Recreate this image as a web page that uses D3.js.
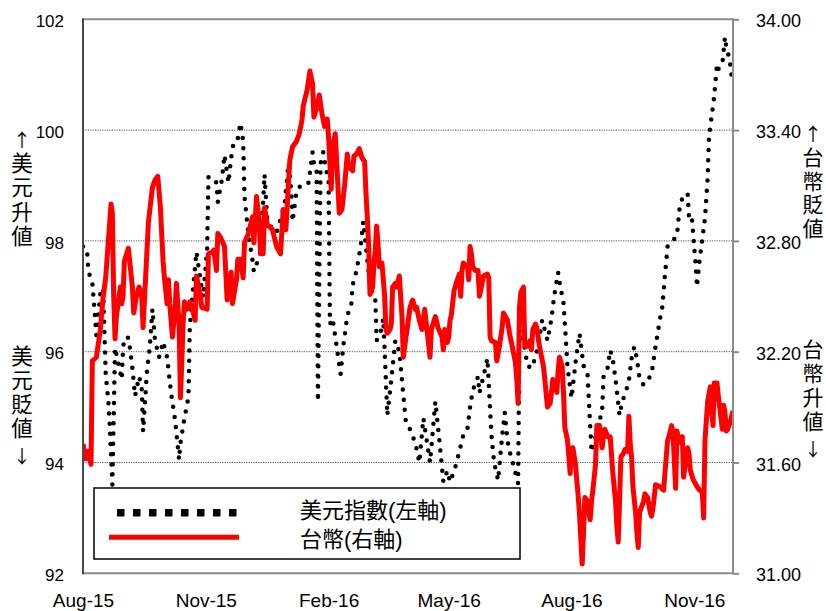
<!DOCTYPE html>
<html><head><meta charset="utf-8">
<script src="https://cdn.jsdelivr.net/npm/d3@7"></script>
<style>body{margin:0;background:#fff}</style>
</head><body>
<svg id="c" width="826" height="611"></svg>
<script>
// ---------- data ----------
const usdDates = ["2015-08-01","2015-08-04","2015-08-05","2015-08-08","2015-08-11","2015-08-14","2015-08-16","2015-08-17","2015-08-18","2015-08-20","2015-08-21","2015-08-23","2015-08-25","2015-08-27","2015-08-30","2015-08-31","2015-09-01","2015-09-04","2015-09-05","2015-09-07","2015-09-09","2015-09-12","2015-09-14","2015-09-15","2015-09-18","2015-09-20","2015-09-22","2015-09-24","2015-09-27","2015-09-30","2015-10-03","2015-10-06","2015-10-09","2015-10-12","2015-10-13","2015-10-16","2015-10-19","2015-10-20","2015-10-22","2015-10-25","2015-10-28","2015-10-30","2015-11-02","2015-11-03","2015-11-06","2015-11-09","2015-11-10","2015-11-13","2015-11-15","2015-11-18","2015-11-20","2015-11-22","2015-11-25","2015-11-27","2015-11-29","2015-11-30","2015-12-03","2015-12-06","2015-12-07","2015-12-10","2015-12-12","2015-12-15","2015-12-17","2015-12-21","2015-12-24","2015-12-27","2015-12-30","2016-01-02","2016-01-04","2016-01-05","2016-01-08","2016-01-11","2016-01-14","2016-01-17","2016-01-20","2016-01-21","2016-01-23","2016-01-24","2016-01-26","2016-01-28","2016-01-30","2016-02-01","2016-02-02","2016-02-04","2016-02-07","2016-02-10","2016-02-12","2016-02-15","2016-02-18","2016-02-19","2016-02-22","2016-02-25","2016-02-27","2016-03-03","2016-03-07","2016-03-08","2016-03-11","2016-03-13","2016-03-16","2016-03-19","2016-03-22","2016-03-25","2016-03-30","2016-04-02","2016-04-06","2016-04-09","2016-04-12","2016-04-17","2016-04-21","2016-04-24","2016-04-27","2016-04-30","2016-05-02","2016-05-06","2016-05-10","2016-05-12","2016-05-15","2016-05-17","2016-05-19","2016-05-23","2016-05-24","2016-05-27","2016-05-30","2016-06-02","2016-06-04","2016-06-07","2016-06-10","2016-06-12","2016-06-14","2016-06-16","2016-06-18","2016-06-22","2016-06-23","2016-06-26","2016-06-29","2016-07-02","2016-07-05","2016-07-07","2016-07-10","2016-07-13","2016-07-14","2016-07-17","2016-07-19","2016-07-22","2016-07-23","2016-07-26","2016-07-27","2016-07-29","2016-08-01","2016-08-04","2016-08-07","2016-08-10","2016-08-13","2016-08-16","2016-08-21","2016-08-24","2016-08-25","2016-08-28","2016-08-30","2016-09-01","2016-09-03","2016-09-06","2016-09-08","2016-09-11","2016-09-13","2016-09-15","2016-09-17","2016-09-19","2016-09-21","2016-09-24","2016-09-27","2016-09-30","2016-10-03","2016-10-06","2016-10-08","2016-10-10","2016-10-12","2016-10-15","2016-10-19","2016-10-21","2016-10-23","2016-10-27","2016-10-28","2016-10-30","2016-11-02","2016-11-03","2016-11-05","2016-11-09","2016-11-11","2016-11-12","2016-11-14","2016-11-16","2016-11-18","2016-11-19","2016-11-22","2016-11-24","2016-11-25","2016-11-27","2016-11-28","2016-11-29"];
const usdValues = [97.9,97.85,97.45,97.25,96.3,97.05,97.15,96.4,95.6,95.1,94.7,93.6,96.07,95.85,95.5,96.05,96.25,96.25,96.1,95.7,95.2,95.55,95.35,94.56,95.67,96.07,96.77,96.2,95.9,96.18,95.9,95.25,94.77,94.05,94.35,94.8,95.18,96.45,97.02,97.8,97.3,96.98,97.85,99.15,99.15,99.05,98.7,99.1,99.55,99.05,99.5,99.8,99.85,100.13,99.8,98.8,98.1,97.65,97.45,97.65,97.75,99.2,98.4,98.2,98.15,98.4,98.65,99.4,98.9,98.35,98.9,99.0,99.05,99.05,99.6,99.4,99.3,95.1,99.4,99.6,99.3,99.1,96.5,96.6,96.1,95.6,96.1,96.65,96.85,97.2,97.47,97.9,98.35,97.2,96.95,96.2,96.35,96.6,94.85,95.5,96.2,96.0,94.7,94.6,94.35,94.0,94.8,94.0,95.1,94.4,93.65,93.85,93.65,93.92,94.3,94.5,94.6,95.0,95.3,95.55,95.25,95.55,95.88,94.5,94.0,93.68,94.47,94.9,94.4,94.17,94.0,93.62,96.4,96.2,95.75,95.7,95.9,96.1,96.57,96.3,96.2,96.6,97.0,97.43,97.26,96.88,96.52,95.72,95.16,95.8,96.33,95.75,95.6,94.19,94.65,94.95,95.55,95.7,96.03,95.85,95.5,94.85,95.1,95.3,95.48,95.88,96.09,95.88,95.5,95.4,95.48,95.6,96.1,96.55,96.8,97.38,97.9,97.97,98.1,98.6,98.77,98.86,98.44,98.47,97.57,97.17,97.66,98.41,99.13,99.87,100.25,100.63,101.19,101.1,101.19,101.68,101.5,101.32,101.17,100.96];

const twdDates = ["2015-08-01","2015-08-03","2015-08-05","2015-08-07","2015-08-08","2015-08-11","2015-08-14","2015-08-16","2015-08-18","2015-08-22","2015-08-23","2015-08-24","2015-08-25","2015-08-26","2015-08-29","2015-08-30","2015-08-31","2015-09-01","2015-09-04","2015-09-07","2015-09-08","2015-09-10","2015-09-12","2015-09-14","2015-09-15","2015-09-19","2015-09-22","2015-09-24","2015-09-26","2015-09-28","2015-09-30","2015-10-01","2015-10-03","2015-10-04","2015-10-05","2015-10-07","2015-10-09","2015-10-10","2015-10-12","2015-10-13","2015-10-14","2015-10-15","2015-10-16","2015-10-18","2015-10-20","2015-10-22","2015-10-24","2015-10-25","2015-10-28","2015-10-29","2015-11-02","2015-11-03","2015-11-06","2015-11-07","2015-11-09","2015-11-10","2015-11-12","2015-11-15","2015-11-17","2015-11-18","2015-11-20","2015-11-21","2015-11-24","2015-11-25","2015-11-27","2015-11-29","2015-11-30","2015-12-03","2015-12-06","2015-12-07","2015-12-09","2015-12-11","2015-12-12","2015-12-14","2015-12-15","2015-12-17","2015-12-21","2015-12-24","2015-12-27","2015-12-29","2015-12-31","2016-01-02","2016-01-03","2016-01-05","2016-01-08","2016-01-10","2016-01-12","2016-01-13","2016-01-16","2016-01-18","2016-01-20","2016-01-21","2016-01-23","2016-01-25","2016-01-27","2016-01-29","2016-01-31","2016-02-01","2016-02-03","2016-02-04","2016-02-06","2016-02-07","2016-02-09","2016-02-11","2016-02-13","2016-02-15","2016-02-16","2016-02-19","2016-02-20","2016-02-22","2016-02-24","2016-02-26","2016-02-28","2016-02-29","2016-03-01","2016-03-02","2016-03-03","2016-03-05","2016-03-06","2016-03-07","2016-03-08","2016-03-09","2016-03-10","2016-03-12","2016-03-14","2016-03-15","2016-03-16","2016-03-18","2016-03-19","2016-03-20","2016-03-22","2016-03-23","2016-03-25","2016-03-27","2016-03-28","2016-03-30","2016-03-31","2016-04-02","2016-04-04","2016-04-06","2016-04-07","2016-04-09","2016-04-11","2016-04-13","2016-04-15","2016-04-17","2016-04-18","2016-04-21","2016-04-23","2016-04-26","2016-04-27","2016-04-28","2016-04-30","2016-05-01","2016-05-02","2016-05-03","2016-05-05","2016-05-07","2016-05-09","2016-05-10","2016-05-11","2016-05-12","2016-05-15","2016-05-16","2016-05-17","2016-05-18","2016-05-19","2016-05-21","2016-05-23","2016-05-24","2016-05-26","2016-05-27","2016-05-30","2016-05-31","2016-06-01","2016-06-02","2016-06-05","2016-06-06","2016-06-08","2016-06-10","2016-06-11","2016-06-14","2016-06-16","2016-06-17","2016-06-20","2016-06-21","2016-06-22","2016-06-23","2016-06-24","2016-06-26","2016-06-27","2016-06-29","2016-07-01","2016-07-02","2016-07-03","2016-07-05","2016-07-06","2016-07-08","2016-07-11","2016-07-12","2016-07-14","2016-07-16","2016-07-17","2016-07-18","2016-07-21","2016-07-22","2016-07-23","2016-07-25","2016-07-26","2016-07-27","2016-07-29","2016-07-31","2016-08-01","2016-08-02","2016-08-04","2016-08-05","2016-08-06","2016-08-07","2016-08-09","2016-08-10","2016-08-11","2016-08-13","2016-08-14","2016-08-15","2016-08-16","2016-08-17","2016-08-19","2016-08-20","2016-08-22","2016-08-24","2016-08-25","2016-08-26","2016-08-28","2016-08-30","2016-09-01","2016-09-03","2016-09-04","2016-09-05","2016-09-06","2016-09-07","2016-09-09","2016-09-10","2016-09-12","2016-09-13","2016-09-14","2016-09-15","2016-09-16","2016-09-18","2016-09-19","2016-09-20","2016-09-21","2016-09-24","2016-09-25","2016-09-27","2016-09-29","2016-09-30","2016-10-01","2016-10-03","2016-10-06","2016-10-09","2016-10-12","2016-10-13","2016-10-15","2016-10-16","2016-10-18","2016-10-19","2016-10-21","2016-10-23","2016-10-24","2016-10-25","2016-10-27","2016-10-28","2016-10-29","2016-10-31","2016-11-03","2016-11-05","2016-11-07","2016-11-08","2016-11-09","2016-11-11","2016-11-13","2016-11-14","2016-11-15","2016-11-16","2016-11-18","2016-11-19","2016-11-22","2016-11-23","2016-11-24","2016-11-25","2016-11-26","2016-11-28","2016-11-30"];
const twdValues = [31.70,31.62,31.66,31.59,32.15,32.17,32.32,32.49,32.6,33.0,32.95,32.5,32.27,32.39,32.55,32.46,32.5,32.69,32.76,32.55,32.41,32.5,32.55,32.5,32.33,32.9,33.09,33.13,33.15,32.98,32.69,32.6,32.46,32.59,32.46,32.28,32.43,32.57,32.35,31.95,32.14,32.35,32.47,32.43,32.47,32.43,32.37,32.61,32.5,32.44,32.43,32.73,32.74,32.75,32.64,32.84,32.82,32.77,32.48,32.52,32.63,32.46,32.59,32.70,32.70,32.6,32.79,32.84,32.93,32.79,33.04,32.91,32.73,32.73,32.98,32.89,32.86,32.77,32.73,32.97,32.86,33.12,33.24,33.31,33.34,33.38,33.45,33.53,33.62,33.72,33.65,33.47,33.52,33.59,33.49,33.42,33.46,33.36,33.08,33.31,33.38,33.24,32.95,32.97,33.1,33.27,33.2,33.18,33.26,33.27,33.30,33.25,33.23,33.06,32.93,32.78,32.51,32.55,32.68,32.75,32.88,32.79,32.66,32.68,32.5,32.32,32.3,32.32,32.35,32.55,32.57,32.55,32.61,32.39,32.17,32.28,32.33,32.44,32.48,32.43,32.44,32.37,32.32,32.43,32.3,32.17,32.32,32.39,32.33,32.28,32.21,32.32,32.25,32.28,32.37,32.4,32.53,32.58,32.62,32.5,32.64,32.68,32.66,32.59,32.77,32.73,32.66,32.64,32.64,32.5,32.57,32.61,32.62,32.6,32.28,32.26,32.25,32.15,32.23,32.33,32.41,32.37,32.28,32.25,32.14,32.05,31.92,32.44,32.52,32.55,32.23,32.23,32.26,32.21,32.32,32.35,32.33,32.23,32.12,32.05,31.9,31.92,31.98,32.05,31.98,32.1,32.17,32.12,31.98,31.79,31.72,31.54,31.67,31.68,31.59,31.5,31.42,31.32,31.05,31.22,31.41,31.39,31.33,31.29,31.39,31.45,31.59,31.8,31.8,31.68,31.76,31.78,31.74,31.74,31.54,31.39,31.25,31.17,31.39,31.63,31.65,31.67,31.66,31.85,31.7,31.63,31.47,31.33,31.22,31.14,31.33,31.39,31.43,31.41,31.33,31.31,31.35,31.48,31.47,31.45,31.72,31.74,31.8,31.77,31.46,31.77,31.71,31.74,31.52,31.58,31.68,31.65,31.56,31.51,31.47,31.45,31.44,31.3,31.72,31.93,32.01,31.88,31.8,32.03,32.03,31.96,31.78,31.91,31.87,31.77,31.78,31.82,31.88];

const leftTicks = [92, 94, 96, 98, 100, 102];
const rightTicks = [31.00, 31.60, 32.20, 32.80, 33.40, 34.00];
const xTickDates = ["2015-08-01","2015-11-01","2016-02-01","2016-05-01","2016-08-01","2016-11-01"];
const xTickLabels = ["Aug-15","Nov-15","Feb-16","May-16","Aug-16","Nov-16"];
const seriesNames = ["美元指數(左軸)", "台幣(右軸)"];
const axisNotes = ["↑美元升値", "美元貶値↓", "↑台幣貶値", "台幣升値↓"];

// ---------- layout ----------
const parse = d3.utcParse("%Y-%m-%d");
const L = 83, R = 733, T = 19.3, B = 573.3;
const svg = d3.select("#c");
const latin = "'Liberation Sans', Arial, sans-serif";
// Latin primary font keeps line boxes compact; CJK glyphs fall back to Noto Sans CJK JP
const mixed = "'Liberation Sans', 'Noto Sans CJK JP', 'Noto Sans CJK TC', sans-serif";
const cjkFirst = "'Noto Sans CJK JP', 'Noto Sans CJK TC', sans-serif";

const x = d3.scaleUtc().domain([parse("2015-08-01"), parse("2016-11-30")]).range([L, R]);
const yL = d3.scaleLinear().domain([92, 102]).range([B, T]);
const yR = d3.scaleLinear().domain([31, 34]).range([B, T]);

// gridlines
svg.append("g").selectAll("line").data(leftTicks.filter(v => v > 92 && v < 102)).join("line")
  .attr("x1", L).attr("x2", R).attr("y1", d => yL(d)).attr("y2", d => yL(d))
  .attr("stroke", "#555").attr("stroke-width", 1).attr("stroke-dasharray", "1.2 1.2");

svg.append("clipPath").attr("id", "pc").append("rect")
  .attr("x", L).attr("y", T - 4).attr("width", R - L).attr("height", B - T + 4);

const usd = usdDates.map((d, i) => ({ d: parse(d), v: usdValues[i] }));
const twd = twdDates.map((d, i) => ({ d: parse(d), v: twdValues[i] }));

const g = svg.append("g").attr("clip-path", "url(#pc)");
g.append("path").datum(usd)
  .attr("d", d3.line().x(p => x(p.d)).y(p => yL(p.v)))
  .attr("fill", "none").attr("stroke", "#000").attr("stroke-width", 4.5)
  .attr("stroke-linecap", "round").attr("stroke-dasharray", "0 10.2");
g.append("path").datum(twd)
  .attr("d", d3.line().x(p => x(p.d)).y(p => yR(p.v)))
  .attr("fill", "none").attr("stroke", "#ff0000").attr("stroke-width", 5)
  .attr("stroke-linejoin", "round");

// frame
svg.append("line").attr("x1", L).attr("x2", R).attr("y1", T).attr("y2", T).attr("stroke", "#8c8c8c").attr("stroke-width", 2);
svg.append("line").attr("x1", L).attr("x2", R + 1).attr("y1", B).attr("y2", B).attr("stroke", "#8c8c8c").attr("stroke-width", 2);
svg.append("line").attr("x1", R).attr("x2", R).attr("y1", T - 1).attr("y2", B + 1).attr("stroke", "#8c8c8c").attr("stroke-width", 2);
svg.append("line").attr("x1", L).attr("x2", L).attr("y1", T - 1).attr("y2", B + 1).attr("stroke", "#4a4a4a").attr("stroke-width", 2);

// axes
const ax = svg.append("g").attr("transform", `translate(${L},0)`)
  .call(d3.axisLeft(yL).tickValues(leftTicks).tickFormat(d3.format("d")).tickSize(0).tickPadding(19));
ax.select(".domain").remove();
ax.selectAll("text").attr("font-family", latin).attr("font-size", 17).attr("fill", "#000").attr("dy", "0.42em");

const ar = svg.append("g").attr("transform", `translate(${R},0)`)
  .call(d3.axisRight(yR).tickValues(rightTicks).tickFormat(d3.format(".2f")).tickSize(6).tickPadding(17));
ar.select(".domain").remove();
ar.selectAll(".tick line").attr("stroke", "#8c8c8c").attr("stroke-width", 2);
ar.selectAll("text").attr("font-family", latin).attr("font-size", 18).attr("fill", "#000").attr("dy", "0.42em");

const axb = svg.append("g").attr("transform", `translate(0,${B})`)
  .call(d3.axisBottom(x).tickValues(xTickDates.map(parse)).tickFormat((d, i) => xTickLabels[i]).tickSize(0).tickPadding(20));
axb.select(".domain").remove();
axb.selectAll("text").attr("font-family", latin).attr("font-size", 19).attr("fill", "#000");

// vertical side notes: one text per character, stacked; arrows use the CJK arrow glyph
function vnote(str, cx, y0, step, size, arrowY) {
  const gg = svg.append("g");
  Array.from(str).forEach((ch, i) => {
    const isArrow = ch === "↑" || ch === "↓";
    gg.append("text").attr("x", cx).attr("y", isArrow ? arrowY : y0 + i * step)
      .attr("text-anchor", "middle").attr("dominant-baseline", "central")
      .attr("font-family", isArrow ? cjkFirst : mixed)
      .attr("font-size", isArrow ? 18 : size).attr("fill", "#000").text(ch);
  });
}
vnote(axisNotes[0], 22, 140, 24.2, 21.5, 138.5);
vnote(axisNotes[1], 22, 357, 24, 21.5, 454.5);
vnote(axisNotes[2], 813, 134, 23.6, 21, 132.5);
vnote(axisNotes[3], 813, 349.5, 24.1, 21, 447.5);

// legend
const lg = svg.append("g");
lg.append("rect").attr("x", 94).attr("y", 488).attr("width", 426).attr("height", 71)
  .attr("fill", "#fff").attr("stroke", "#000").attr("stroke-width", 1.5);
lg.append("line").attr("x1", 117).attr("x2", 240).attr("y1", 512.7).attr("y2", 512.7)
  .attr("stroke", "#000").attr("stroke-width", 7.5).attr("stroke-dasharray", "7.5 8.5");
lg.append("line").attr("x1", 109).attr("x2", 239).attr("y1", 537.3).attr("y2", 537.3)
  .attr("stroke", "#ff0000").attr("stroke-width", 5);
lg.selectAll("text.lt").data(seriesNames).join("text").attr("class", "lt")
  .attr("x", 300).attr("y", (d, i) => i === 0 ? 510 : 539)
  .attr("dominant-baseline", "central")
  .attr("font-family", mixed).attr("font-size", 22).attr("fill", "#000").text(d => d);
</script>
</body></html>
